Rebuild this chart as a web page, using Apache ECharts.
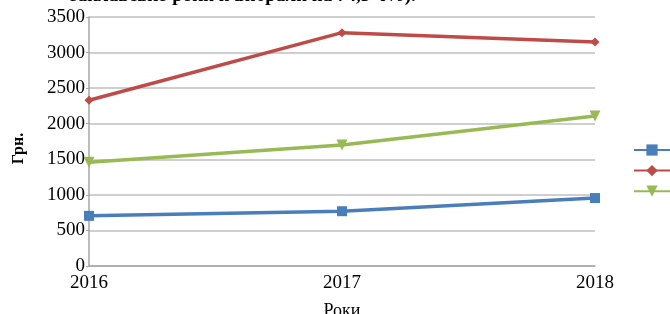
<!DOCTYPE html>
<html>
<head>
<meta charset="utf-8">
<script src="https://cdn.jsdelivr.net/npm/echarts@6/dist/echarts.min.js"></script>
<style>
  html, body { margin: 0; padding: 0; background: #fff; }
  #chart { width: 670px; height: 314px; }
</style>
</head>
<body>
<div id="chart"></div>
<script>
// дані графіка
var years = ['2016', '2017', '2018'];
var seriesNames = ['Ряд 1', 'Ряд 2', 'Ряд 3'];
var blueValues = [705, 770, 955];
var redValues = [2330, 3280, 3150];
var greenValues = [1460, 1700, 2110];
var yMax = 3500;
var yStep = 500;
var topText = 'заклавсько роки й вибрали на 74,5 ч%).';

var myChart = echarts.init(document.getElementById('chart'));
var serif = '"Liberation Serif", "DejaVu Serif", serif';

var option = {
    animation: false,
    color: ['#4a7ebb', '#be4b48', '#98b954'],
    graphic: [{
        type: 'text',
        left: 70,
        top: -13,
        style: {
            text: topText,
            font: 'bold 19px ' + serif,
            fill: '#000'
        }
    }],
    legend: {
        orient: 'vertical',
        left: 628,
        top: 138,
        itemWidth: 36,
        itemHeight: 14,
        itemGap: 8,
        formatter: function () { return ''; },
        data: seriesNames
    },
    grid: {
        left: 89,
        right: 75,
        top: 17,
        bottom: 48,
        outerBoundsMode: 'none'
    },
    xAxis: {
        type: 'category',
        data: years,
        boundaryGap: false,
        name: 'Роки',
        nameLocation: 'middle',
        nameGap: 36,
        nameTextStyle: { fontFamily: serif, fontSize: 18, color: '#000' },
        axisLine: { lineStyle: { color: '#a6a6a6', width: 1.5 } },
        axisTick: { show: false },
        axisLabel: { fontFamily: serif, fontSize: 19, color: '#000', margin: 8 }
    },
    yAxis: {
        type: 'value',
        min: 0,
        max: yMax,
        interval: yStep,
        name: 'Грн.',
        nameLocation: 'middle',
        nameGap: 62,
        nameTextStyle: { fontFamily: serif, fontSize: 16, fontWeight: 'bold', color: '#000', padding: [0, 14, 0, 0] },
        axisLine: { show: true, lineStyle: { color: '#a6a6a6', width: 1.5 } },
        axisTick: { show: true, length: 3, lineStyle: { color: '#a6a6a6' } },
        axisLabel: {
            fontFamily: serif, fontSize: 19, color: '#000', margin: 4,
            formatter: function (v) { return String(v); }
        },
        splitLine: { lineStyle: { color: '#bfbfbf', width: 1.5 } }
    },
    series: [
        {
            name: seriesNames[0],
            type: 'line',
            data: blueValues,
            symbol: 'rect',
            symbolSize: 10,
            lineStyle: { width: 3.5 }
        },
        {
            name: seriesNames[1],
            type: 'line',
            data: redValues,
            symbol: 'diamond',
            symbolSize: 9,
            lineStyle: { width: 3.5 }
        },
        {
            name: seriesNames[2],
            type: 'line',
            data: greenValues,
            symbol: 'triangle',
            symbolRotate: 180,
            symbolSize: 11,
            lineStyle: { width: 3.5 }
        }
    ]
};

myChart.setOption(option);
</script>
</body>
</html>
